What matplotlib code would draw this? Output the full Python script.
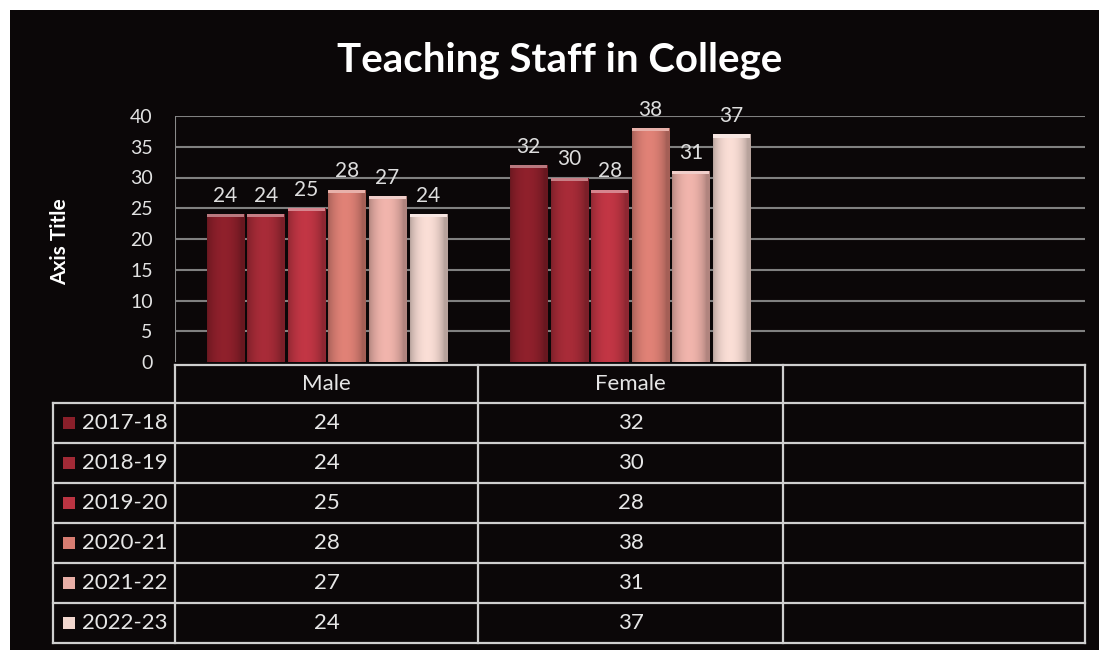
import numpy as np
import matplotlib
matplotlib.use("Agg")
import matplotlib.pyplot as plt
from matplotlib.patches import Rectangle
from matplotlib.colors import to_rgb

plt.rcParams["font.family"] = ["Lato", "DejaVu Sans"]

# ---- data ----
categories = ["Male", "Female", ""]
years = ["2017-18", "2018-19", "2019-20", "2020-21", "2021-22", "2022-23"]
male = [24, 24, 25, 28, 27, 24]
female = [32, 30, 28, 38, 31, 37]
y_ticks = [0, 5, 10, 15, 20, 25, 30, 35, 40]
title = "Teaching Staff in College"
y_label = "Axis Title"

series_colors = ["#8a1f2a", "#a22a36", "#bb3442", "#d87d72", "#e8aea6", "#f1d6ce"]

W, H = 1099, 650
fig = plt.figure(figsize=(W / 100, H / 100), dpi=100, facecolor="white")

# full-figure canvas in pixel units for the dark panel, title and data table
bg = fig.add_axes([0, 0, 1, 1], zorder=0)
bg.set_xlim(0, W)
bg.set_ylim(H, 0)
bg.axis("off")
bg.add_patch(Rectangle((10, 10), W - 10, H - 10, facecolor="#0b0708", edgecolor="none"))

bg.text(560, 60, title, ha="center", va="center", color="white",
        fontsize=29, fontweight="bold")
bg.text(60, 242, y_label, ha="center", va="center", rotation=90,
        color="white", fontsize=15, fontweight="bold")

# ---- plot area ----
px_left, px_right, px_top, px_bottom = 175, 1085, 116, 362
ax = fig.add_axes([px_left / W, 1 - px_bottom / H,
                   (px_right - px_left) / W, (px_bottom - px_top) / H], zorder=1)
ax.set_facecolor("none")

for y in y_ticks[1:]:
    ax.axhline(y, color="#808080", lw=1.5, zorder=1)
ax.axvline(-0.5, color="#8a8a8a", lw=1.5, zorder=1)

n = len(years)
pitch = 0.1337
bar_w = 0.122
xs = np.arange(len(categories))
values = [[male[i], female[i]] for i in range(n)]

# horizontal shading profile that gives the bars a rounded look
t = np.linspace(0, 1, 64)
profile = 0.76 + 0.28 * np.sin(np.pi * np.clip(t * 1.1, 0, 1)) ** 0.7

for i in range(n):
    base = np.array(to_rgb(series_colors[i]))
    xpos = xs[:2] + (i - (n - 1) / 2) * pitch
    bars = ax.bar(xpos, values[i], width=bar_w, color=series_colors[i], zorder=2)
    grad = np.clip(base[None, None, :] * profile[None, :, None], 0, 1)
    cap = np.clip(base + (1 - base) * 0.4, 0, 1)
    for rect, v in zip(bars, values[i]):
        x0 = rect.get_x()
        im = ax.imshow(grad, extent=[x0, x0 + bar_w, 0, v], aspect="auto",
                       interpolation="bilinear", zorder=3)
        im.set_clip_path(rect)
        ax.add_patch(Rectangle((x0, v - 0.5), bar_w, 0.5, facecolor=cap,
                               edgecolor="none", zorder=4))
        ax.annotate(f"{v}", (x0 + bar_w / 2, v), xytext=(0, 6),
                    textcoords="offset points", ha="center", va="bottom",
                    color="#dedede", fontsize=15, zorder=5)

ax.set_xlim(-0.5, len(categories) - 0.5)
ax.set_ylim(0, 40)
ax.set_yticks(y_ticks)
ax.set_xticks([])
ax.tick_params(axis="y", length=0, pad=16, labelcolor="#e2e2e2", labelsize=14)
for s in ax.spines.values():
    s.set_visible(False)

# ---- data table ----
line_c = "#cfcfcf"
lw = 1.6
col_edges = [175, 478, 783, 1085]
label_left = 53
head_top, head_bot = 365, 403
row_h = 40
row_tops = [head_bot + k * row_h for k in range(n + 1)]
table_bottom = row_tops[-1]

for xe in col_edges:
    bg.plot([xe, xe], [head_top, table_bottom], color=line_c, lw=lw, zorder=3)
bg.plot([label_left, label_left], [head_bot, table_bottom], color=line_c, lw=lw, zorder=3)
bg.plot([col_edges[0], col_edges[-1]], [head_top, head_top], color=line_c, lw=lw, zorder=3)
for yt in row_tops:
    bg.plot([label_left, col_edges[-1]], [yt, yt], color=line_c, lw=lw, zorder=3)

col_centers = [(col_edges[k] + col_edges[k + 1]) / 2 for k in range(len(categories))]
for c, name in zip(col_centers, categories):
    bg.text(c, (head_top + head_bot) / 2, name, ha="center", va="center",
            color="#e6e6e6", fontsize=16, zorder=4)

for i in range(n):
    yc = row_tops[i] + row_h / 2
    bg.add_patch(Rectangle((63, yc - 6), 12, 12, facecolor=series_colors[i],
                           edgecolor="none", zorder=4))
    bg.text(82, yc, years[i], ha="left", va="center", color="#e6e6e6",
            fontsize=16, zorder=4)
    for c, v in zip(col_centers[:2], values[i]):
        bg.text(c, yc, f"{v}", ha="center", va="center", color="#e6e6e6",
                fontsize=16, zorder=4)

fig.savefig("out.png", dpi=100, facecolor=fig.get_facecolor())
